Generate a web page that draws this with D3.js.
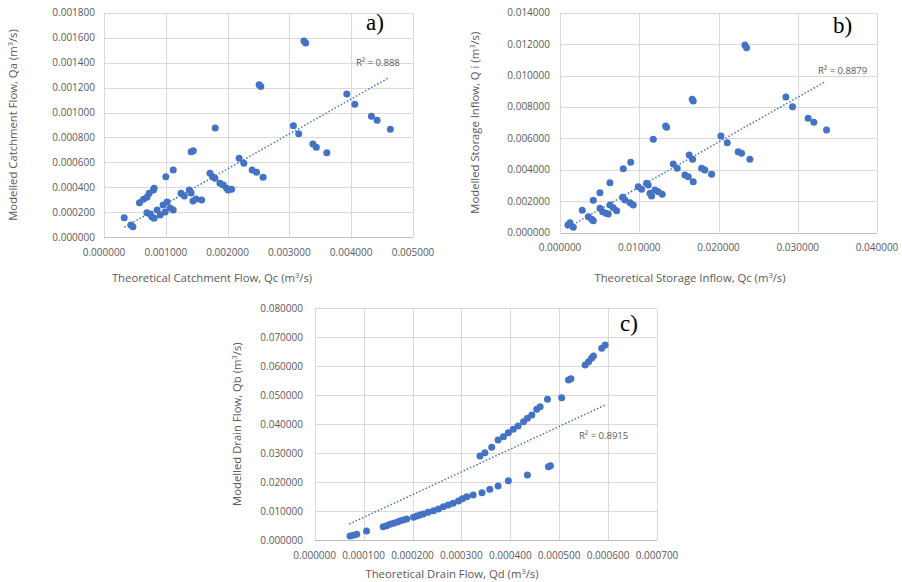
<!DOCTYPE html>
<html>
<head>
<meta charset="utf-8">
<script src="https://cdn.jsdelivr.net/npm/d3@7"></script>
<style>
  body { margin: 0; background: #fff; }
  svg { display: block; font-family: "Open Sans", "Noto Sans", sans-serif; }
  .tag { font-family: "Liberation Serif", "DejaVu Serif", serif; }
</style>
</head>
<body>
<script>
// panel a) catchment flow: [theoretical Qc, modelled Qa]
var catchmentPts = [
  [0.000327,0.000157],[0.000435,0.000099],[0.000468,0.000085],[0.000574,0.000277],
  [0.000639,0.000304],[0.000694,0.000320],[0.000731,0.000353],[0.000800,0.000379],
  [0.000811,0.000393],[0.000694,0.000197],[0.000747,0.000187],[0.000774,0.000165],
  [0.000811,0.000152],[0.000860,0.000219],[0.000908,0.000179],[0.000956,0.000259],
  [0.000989,0.000203],[0.001020,0.000283],[0.001070,0.000235],[0.001120,0.000219],
  [0.001000,0.000486],[0.001120,0.000539],[0.001247,0.000353],[0.001300,0.000331],
  [0.001380,0.000379],[0.001410,0.000355],[0.001440,0.000291],[0.001490,0.000307],
  [0.001580,0.000299],[0.001410,0.000686],[0.001445,0.000694],[0.001800,0.000876],
  [0.001715,0.000513],[0.001758,0.000486],[0.001795,0.000473],[0.001876,0.000433],
  [0.001930,0.000419],[0.001984,0.000393],[0.002010,0.000379],[0.002065,0.000385],
  [0.002187,0.000633],[0.002263,0.000593],[0.002397,0.000539],[0.002468,0.000521],
  [0.002574,0.000481],[0.002510,0.001223],[0.002537,0.001208],[0.003065,0.000894],
  [0.003150,0.000830],[0.003235,0.001573],[0.003263,0.001557],[0.003380,0.000748],
  [0.003435,0.000721],[0.003606,0.000678],[0.003929,0.001148],[0.004058,0.001066],
  [0.004327,0.000970],[0.004419,0.000938],[0.004634,0.000865]
];
var catchmentTrend = [[0.000330,0.000080],[0.004590,0.001274]];

// panel b) storage inflow: [theoretical Qc, modelled Qi]
var storagePts = [
  [0.00126,0.000636],[0.00168,0.000344],[0.00101,0.000490],[0.00281,0.001425],
  [0.00357,0.001018],[0.00400,0.000853],[0.00420,0.000764],[0.00420,0.002060],
  [0.00504,0.002545],[0.00504,0.001553],[0.00538,0.001336],[0.00580,0.001234],
  [0.00609,0.001190],[0.00630,0.003180],[0.00630,0.001760],[0.00672,0.001590],
  [0.00715,0.001400],[0.00790,0.002253],[0.00820,0.002080],[0.00883,0.001910],
  [0.00924,0.001760],[0.00798,0.004070],[0.00892,0.004480],[0.00987,0.002930],
  [0.01030,0.002760],[0.01093,0.003140],[0.01113,0.003040],[0.01135,0.002510],
  [0.01156,0.002340],[0.01198,0.002720],[0.01240,0.002610],[0.01290,0.002440],
  [0.01177,0.005940],[0.01333,0.006790],[0.01345,0.006710],[0.01429,0.004370],
  [0.01479,0.004100],[0.01630,0.004940],[0.01673,0.004670],[0.01576,0.003670],
  [0.01618,0.003560],[0.01681,0.003250],[0.01787,0.004100],[0.01828,0.003990],
  [0.01913,0.003720],[0.01668,0.008490],[0.01681,0.008380],[0.02030,0.006150],
  [0.02110,0.005730],[0.02248,0.005150],[0.02291,0.005050],[0.02396,0.004670],
  [0.02333,0.011940],[0.02354,0.011770],[0.02850,0.008640],[0.02934,0.008020],
  [0.03131,0.007280],[0.03203,0.007030],[0.03363,0.006540]
];
var storageTrend = [[0.00088,0.00030],[0.03333,0.00957]];

// panel c) drain flow: [theoretical Qd, modelled Qb]
var drainPts = [
  [0.0000722,0.00138],[0.0000790,0.00162],[0.0000859,0.00197],[0.000106,0.00311],
  [0.000140,0.00459],[0.000147,0.00494],[0.000154,0.00542],[0.000161,0.00577],
  [0.000168,0.00611],[0.000174,0.00656],[0.000181,0.00691],[0.000188,0.00725],
  [0.000202,0.00784],[0.000209,0.00829],[0.000215,0.00863],[0.000222,0.00898],
  [0.000232,0.00957],[0.000243,0.01012],[0.000253,0.01070],[0.000263,0.01150],
  [0.000273,0.01209],[0.000283,0.01267],[0.000294,0.01347],[0.000302,0.01420],
  [0.000311,0.01495],[0.000324,0.01554],[0.000342,0.01633],[0.000358,0.01751],
  [0.000375,0.01865],[0.000396,0.02048],[0.000435,0.02244],[0.000478,0.02531],
  [0.000482,0.02560],
  [0.000338,0.02900],[0.000348,0.03015],[0.000362,0.03200],[0.000375,0.03453],
  [0.000386,0.03567],[0.000396,0.03705],[0.000406,0.03823],[0.000416,0.03936],
  [0.000427,0.04085],[0.000435,0.04202],[0.000444,0.04316],[0.000454,0.04513],
  [0.000461,0.04603],[0.000476,0.04858],[0.000505,0.04914],[0.000519,0.05525],
  [0.000524,0.05570],[0.000553,0.06043],[0.000560,0.06157],[0.000566,0.06274],
  [0.000570,0.06354],[0.000587,0.06620],[0.000594,0.06733]
];
var drainTrend = [[0.0000708,0.00552],[0.000594,0.04660]];

var xTicksA = [0,0.001,0.002,0.003,0.004,0.005];
var yTicksA = [0,0.0002,0.0004,0.0006,0.0008,0.001,0.0012,0.0014,0.0016,0.0018];
var xTicksB = [0,0.01,0.02,0.03,0.04];
var yTicksB = [0,0.002,0.004,0.006,0.008,0.01,0.012,0.014];
var xTicksC = [0,0.0001,0.0002,0.0003,0.0004,0.0005,0.0006,0.0007];
var yTicksC = [0,0.01,0.02,0.03,0.04,0.05,0.06,0.07,0.08];

var BLUE = "#4472c4", GRID = "#d9d9d9", LABEL = "#595959";
var fmt = d3.format(".6f");

var svg = d3.select("body").append("svg")
  .attr("width", 902).attr("height", 582);

function title(g, x, y, rotate, main) {
  var t = g.append("text")
    .attr("text-anchor", "middle")
    .attr("font-size", 11.3)
    .attr("fill", LABEL)
    .attr("transform", "translate(" + x + "," + y + ")" + (rotate ? " rotate(-90)" : ""));
  t.append("tspan").text(main + " (m");
  t.append("tspan").attr("font-size", 7.5).attr("dy", -4).text("3");
  t.append("tspan").attr("dy", 4).text("/s)");
}

function drawPanel(p) {
  var x = d3.scaleLinear().domain([p.xTicks[0], p.xTicks[p.xTicks.length - 1]]).range([p.left, p.right]);
  var y = d3.scaleLinear().domain([p.yTicks[0], p.yTicks[p.yTicks.length - 1]]).range([p.bottom, p.top]);
  var g = svg.append("g");

  // gridlines
  g.selectAll(".gx").data(p.xTicks).enter().append("line")
    .attr("x1", d => Math.round(x(d)) + 0.5).attr("x2", d => Math.round(x(d)) + 0.5)
    .attr("y1", p.top).attr("y2", p.bottom)
    .attr("stroke", GRID).attr("stroke-width", 1);
  g.selectAll(".gy").data(p.yTicks).enter().append("line")
    .attr("y1", d => Math.round(y(d)) + 0.5).attr("y2", d => Math.round(y(d)) + 0.5)
    .attr("x1", p.left).attr("x2", p.right)
    .attr("stroke", d => d === 0 ? "#bfbfbf" : GRID).attr("stroke-width", 1);

  // tick labels
  g.selectAll(".tx").data(p.xTicks).enter().append("text")
    .attr("x", d => x(d)).attr("y", p.bottom + p.xLabOff)
    .attr("text-anchor", "middle").attr("font-size", 10).attr("fill", LABEL)
    .text(fmt);
  g.selectAll(".ty").data(p.yTicks).enter().append("text")
    .attr("x", p.left - p.yLabOff).attr("y", d => y(d) + 3.5)
    .attr("text-anchor", "end").attr("font-size", 10).attr("fill", LABEL)
    .text(fmt);

  // points
  g.selectAll("circle").data(p.pts).enter().append("circle")
    .attr("cx", d => x(d[0])).attr("cy", d => y(d[1]))
    .attr("r", 3.5).attr("fill", BLUE);

  // linear trendline
  g.append("line")
    .attr("x1", x(p.trend[0][0])).attr("y1", y(p.trend[0][1]))
    .attr("x2", x(p.trend[1][0])).attr("y2", y(p.trend[1][1]))
    .attr("stroke", BLUE).attr("stroke-width", 1.5)
    .attr("stroke-dasharray", "1.5,2");

  g.append("text")
    .attr("x", p.r2x).attr("y", p.r2y)
    .attr("font-size", 9.5).attr("fill", LABEL)
    .text(p.r2);

  g.append("text")
    .attr("class", "tag")
    .attr("x", p.tagX).attr("y", p.tagY)
    .attr("font-size", 23).attr("fill", "#000")
    .text(p.tag);

  title(g, p.xtX, p.xtY, false, p.xTitle);
  title(g, p.ytX, (p.top + p.bottom) / 2, true, p.yTitle);
}

drawPanel({
  pts: catchmentPts, trend: catchmentTrend, xTicks: xTicksA, yTicks: yTicksA,
  left: 104, right: 413, top: 12.7, bottom: 237.3, xLabOff: 18.5, yLabOff: 9,
  r2: "R\u00b2 = 0.888", r2x: 356, r2y: 66, tag: "a)", tagX: 366, tagY: 30,
  xTitle: "Theoretical Catchment Flow, Qc", xtX: 212, xtY: 282,
  yTitle: "Modelled Catchment Flow, Qa", ytX: 17
});

drawPanel({
  pts: storagePts, trend: storageTrend, xTicks: xTicksB, yTicks: yTicksB,
  left: 560, right: 877, top: 12.7, bottom: 232.7, xLabOff: 18, yLabOff: 10,
  r2: "R\u00b2 = 0.8879", r2x: 818, r2y: 74, tag: "b)", tagX: 833, tagY: 33,
  xTitle: "Theoretical Storage  Inflow, Qc", xtX: 690, xtY: 282,
  yTitle: "Modelled Storage Inflow, Q i", ytX: 479
});

drawPanel({
  pts: drainPts, trend: drainTrend, xTicks: xTicksC, yTicks: yTicksC,
  left: 314.7, right: 657, top: 308.3, bottom: 540, xLabOff: 19, yLabOff: 11.7,
  r2: "R\u00b2 = 0.8915", r2x: 579, r2y: 439, tag: "c)", tagX: 620, tagY: 331,
  xTitle: "Theoretical Drain Flow, Qd", xtX: 452, xtY: 578,
  yTitle: "Modelled Drain Flow, Qb", ytX: 241
});
</script>
</body>
</html>
